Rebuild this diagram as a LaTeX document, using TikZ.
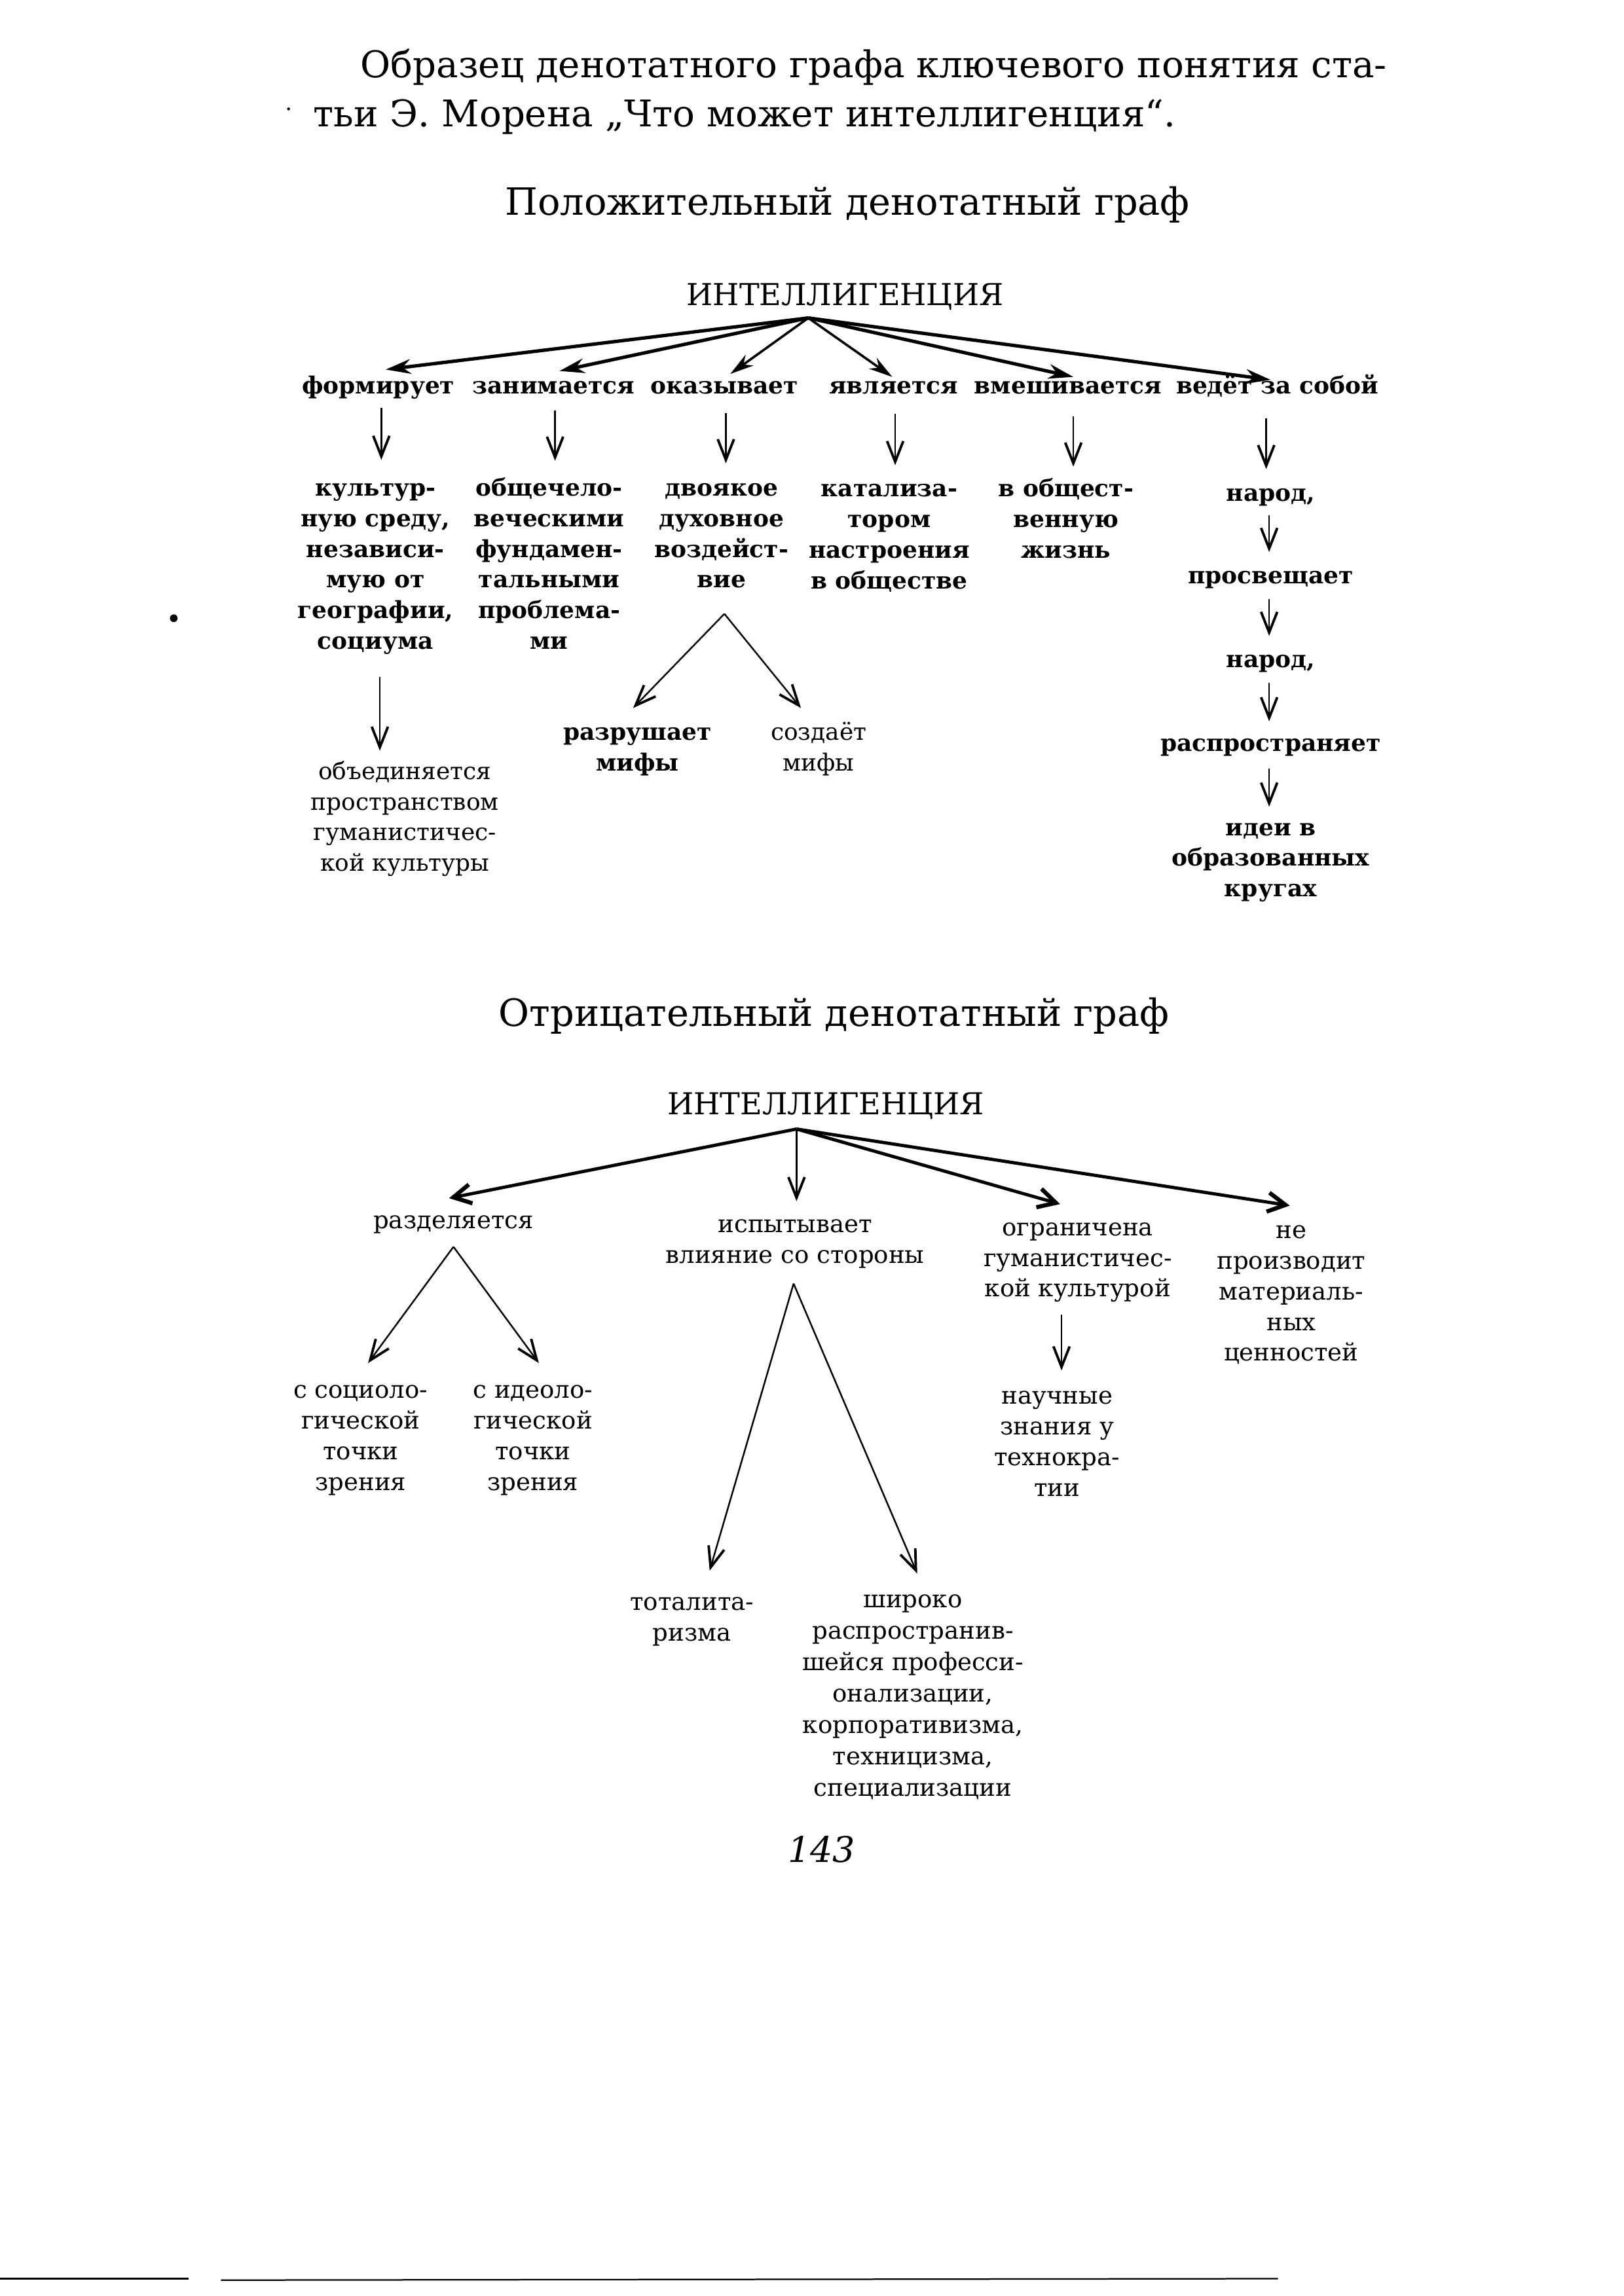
\documentclass[tikz,border=0pt]{standalone}
\usepackage{fontspec}
\setmainfont{DejaVu Serif}
\usetikzlibrary{arrows.meta}
\newcommand\fpos{\fontsize{16}{20.8}\selectfont\bfseries}
\newcommand\fposr{\fontsize{16}{20.8}\selectfont}
\newcommand\fneg{\fontsize{16.5}{20.8}\selectfont}
\newcommand\fshir{\fontsize{16.5}{21.4}\selectfont}
\newcommand\fbig{\fontsize{25}{28}\selectfont}
\newcommand\fsub{\fontsize{25.5}{28}\selectfont}
\newcommand\fcap{\fontsize{20.5}{25}\selectfont}
\newcommand\fnum{\fontsize{24}{28}\selectfont\itshape}
\begin{document}
\begin{tikzpicture}[x=1pt,y=-1pt,
  lab/.style={inner sep=0pt,outer sep=0pt,align=center,anchor=north},
  pl/.style={lab,font=\fpos},
  plr/.style={lab,font=\fposr},
  nl/.style={lab,font=\fneg},
  ttl/.style={inner sep=0pt,outer sep=0pt,anchor=base west,font=\fbig},
  ttc/.style={inner sep=0pt,outer sep=0pt,anchor=base,font=\fsub},
  capn/.style={inner sep=0pt,outer sep=0pt,anchor=base,font=\fcap},
  mainpos/.style={line width=2.3pt,-{Stealth[length=17pt,width=10pt,inset=5.5pt]}},
  mainposm/.style={line width=1.6pt,-{Stealth[length=16pt,width=9pt,inset=5pt]}},
  varrow/.style={line width=1.1pt,-{Straight Barb[length=14pt,width=11pt,line width=1.7pt]}},
  mainneg/.style={line width=2.2pt,-{Straight Barb[length=12pt,width=13pt,line width=2.8pt]}},
]
\fill[white] (0,0) rectangle (1103,1559.8);
\useasboundingbox (0,0) rectangle (1103,1559.8);

% header
\node[ttl] (h1) at (245,52.6) {Образец денотатного графа ключевого понятия ста-};
\node[ttl] (h2) at (213,86) {тьи Э. Морена „Что может интеллигенция“.};
\node[ttc] (tpos) at (575.5,146) {Положительный денотатный граф};

% positive graph
\node[capn] (ip) at (574,207.5) {ИНТЕЛЛИГЕНЦИЯ};
\coordinate (papex) at (549,216);

\node[pl] (f1) at (257,253.04) {\strut формирует\strut};
\node[pl] (f2) at (376,253.04) {\strut занимается\strut};
\node[pl] (f3) at (492,253.04) {\strut оказывает\strut};
\node[pl] (f4) at (607,253.04) {\strut является\strut};
\node[pl] (f5) at (725.5,253.04) {\strut вмешивается\strut};
\node[pl] (f6) at (867.5,253.04) {\strut ведёт за собой\strut};

\draw[mainpos]  (papex) -- ([shift={(5,-2)}]f1.north);
\draw[mainpos]  (papex) -- ([shift={(4,-1)}]f2.north);
\draw[mainposm] (papex) -- ([shift={(4,1)}]f3.north);
\draw[mainposm] (papex) -- ([shift={(-1,3)}]f4.north);
\draw[mainpos]  (papex) -- ([shift={(3.5,3)}]f5.north);
\draw[mainpos]  (papex) -- ([shift={(-4.5,5)}]f6.north);

\node[pl] (c1) at (255,322.4) {\strut культур-\\ную среду,\\независи-\\мую от\\географии,\\социума\strut};
\node[pl] (c2) at (373,322.4) {\strut общечело-\\веческими\\фундамен-\\тальными\\проблема-\\ми\strut};
\node[pl] (c3) at (490,322.4) {\strut двоякое\\духовное\\воздейст-\\вие\strut};
\node[pl] (c4) at (604,323) {\strut катализа-\\тором\\настроения\\в обществе\strut};
\node[pl] (c5) at (724,323) {\strut в общест-\\венную\\жизнь\strut};

\draw[varrow] ([shift={(2,3.2)}]f1.south) -- ([shift={(4,-10)}]c1.north);
\draw[varrow] ([shift={(1,5.2)}]f2.south) -- ([shift={(4,-9.4)}]c2.north);
\draw[varrow] ([shift={(1,6.8)}]f3.south) -- ([shift={(3,-7.7)}]c3.north);
\draw[varrow] ([shift={(1,7.2)}]f4.south) -- ([shift={(4,-7)}]c4.north);
\draw[varrow] ([shift={(3.5,9.2)}]f5.south) -- ([shift={(5,-6)}]c5.north);

\node[pl] (n1) at (863,326) {\strut народ,\strut};
\node[pl] (pr) at (863,382) {\strut просвещает\strut};
\node[pl] (n2) at (863,439) {\strut народ,\strut};
\node[pl] (ra) at (863,496) {\strut распространяет\strut};
\node[pl] (id) at (863,553) {\strut идеи в\\образованных\\кругах\strut};

\draw[varrow] ([shift={(-7.5,10.2)}]f6.south) -- ([shift={(-3,-7.3)}]n1.north);
\draw[varrow] ([shift={(-1,3.3)}]n1.south) -- ([shift={(-1,-7)}]pr.north);
\draw[varrow] ([shift={(-1,4.3)}]pr.south) -- ([shift={(-1,-7)}]n2.north);
\draw[varrow] ([shift={(-1,4.3)}]n2.south) -- ([shift={(-1,-6)}]ra.north);
\draw[varrow] ([shift={(-1,5.3)}]ra.south) -- ([shift={(-1,-5)}]id.north);

\node[plr] (ob) at (275,514.9) {\strut объединяется\\пространством\\гуманистичес-\\кой культуры\strut};
\draw[varrow] ([shift={(3,12.8)}]c1.south) -- ([shift={(-17,-4.9)}]ob.north);

\node[pl] (rz) at (433,488.4) {\strut разрушает\\мифы\strut};
\node[plr] (sz) at (556,488.4) {\strut создаёт\\мифы\strut};
\coordinate (fork3) at ([shift={(2,11.4)}]c3.south);
\draw[varrow] (fork3) -- ([shift={(-3,-7.4)}]rz.north);
\draw[varrow] (fork3) -- ([shift={(-12,-7.4)}]sz.north);

% negative graph
\node[ttc] (tneg) at (566.5,697) {Отрицательный денотатный граф};
\node[capn] (in) at (561,757) {ИНТЕЛЛИГЕНЦИЯ};
\coordinate (napex) at (541,767);

\node[nl] (g1) at (308,819.9) {\strut разделяется\strut};
\node[nl] (g2) at (540,822.9) {\strut испытывает\\влияние со стороны\strut};
\node[nl] (g3) at (732,824.9) {\strut ограничена\\гуманистичес-\\кой культурой\strut};
\node[nl] (g4) at (877,826.9) {\strut не\\производит\\материаль-\\ных\\ценностей\strut};

\draw[mainneg] (napex) -- ([shift={(-3,-5.9)}]g1.north);
\draw[varrow]  (napex) -- ([shift={(1,-6.9)}]g2.north);
\draw[mainneg] (napex) -- ([shift={(-12,-6.9)}]g3.north);
\draw[mainneg] (napex) -- ([shift={(-1,-7.9)}]g4.north);

\node[nl] (s1) at (245,935.4) {\strut с социоло-\\гической\\точки\\зрения\strut};
\node[nl] (s2) at (362,935.4) {\strut с идеоло-\\гической\\точки\\зрения\strut};
\coordinate (fork1) at ([shift={(0,6.3)}]g1.south);
\draw[varrow] (fork1) -- ([shift={(5,-9.4)}]s1.north);
\draw[varrow] (fork1) -- ([shift={(4,-9.4)}]s2.north);

\node[nl] (nz) at (718,939.4) {\strut научные\\знания у\\технокра-\\тии\strut};
\draw[varrow] ([shift={(-11,5.7)}]g3.south) -- ([shift={(3,-8.4)}]nz.north);

\node[nl] (tt) at (470,1079.4) {\strut тоталита-\\ризма\strut};
\node[lab,font=\fshir] (sh) at (620,1077) {\strut широко\\распространив-\\шейся професси-\\онализации,\\корпоративизма,\\техницизма,\\специализации\strut};
\coordinate (fork2) at ([shift={(-1,7.5)}]g2.south);
\draw[varrow] (fork2) -- ([shift={(12,-12.4)}]tt.north);
\draw[varrow] (fork2) -- ([shift={(3,-8)}]sh.north);

\node[inner sep=0pt,anchor=base,font=\fnum] (pg) at (558,1265) {143};

% scan marks
\fill (118,420) circle[radius=2.6pt];
\fill (196,74) circle[radius=1pt];
\draw[line width=1pt] (0,1548) -- (128,1548);
\draw[line width=1pt] (150,1549) -- (868,1548);
\end{tikzpicture}
\end{document}
